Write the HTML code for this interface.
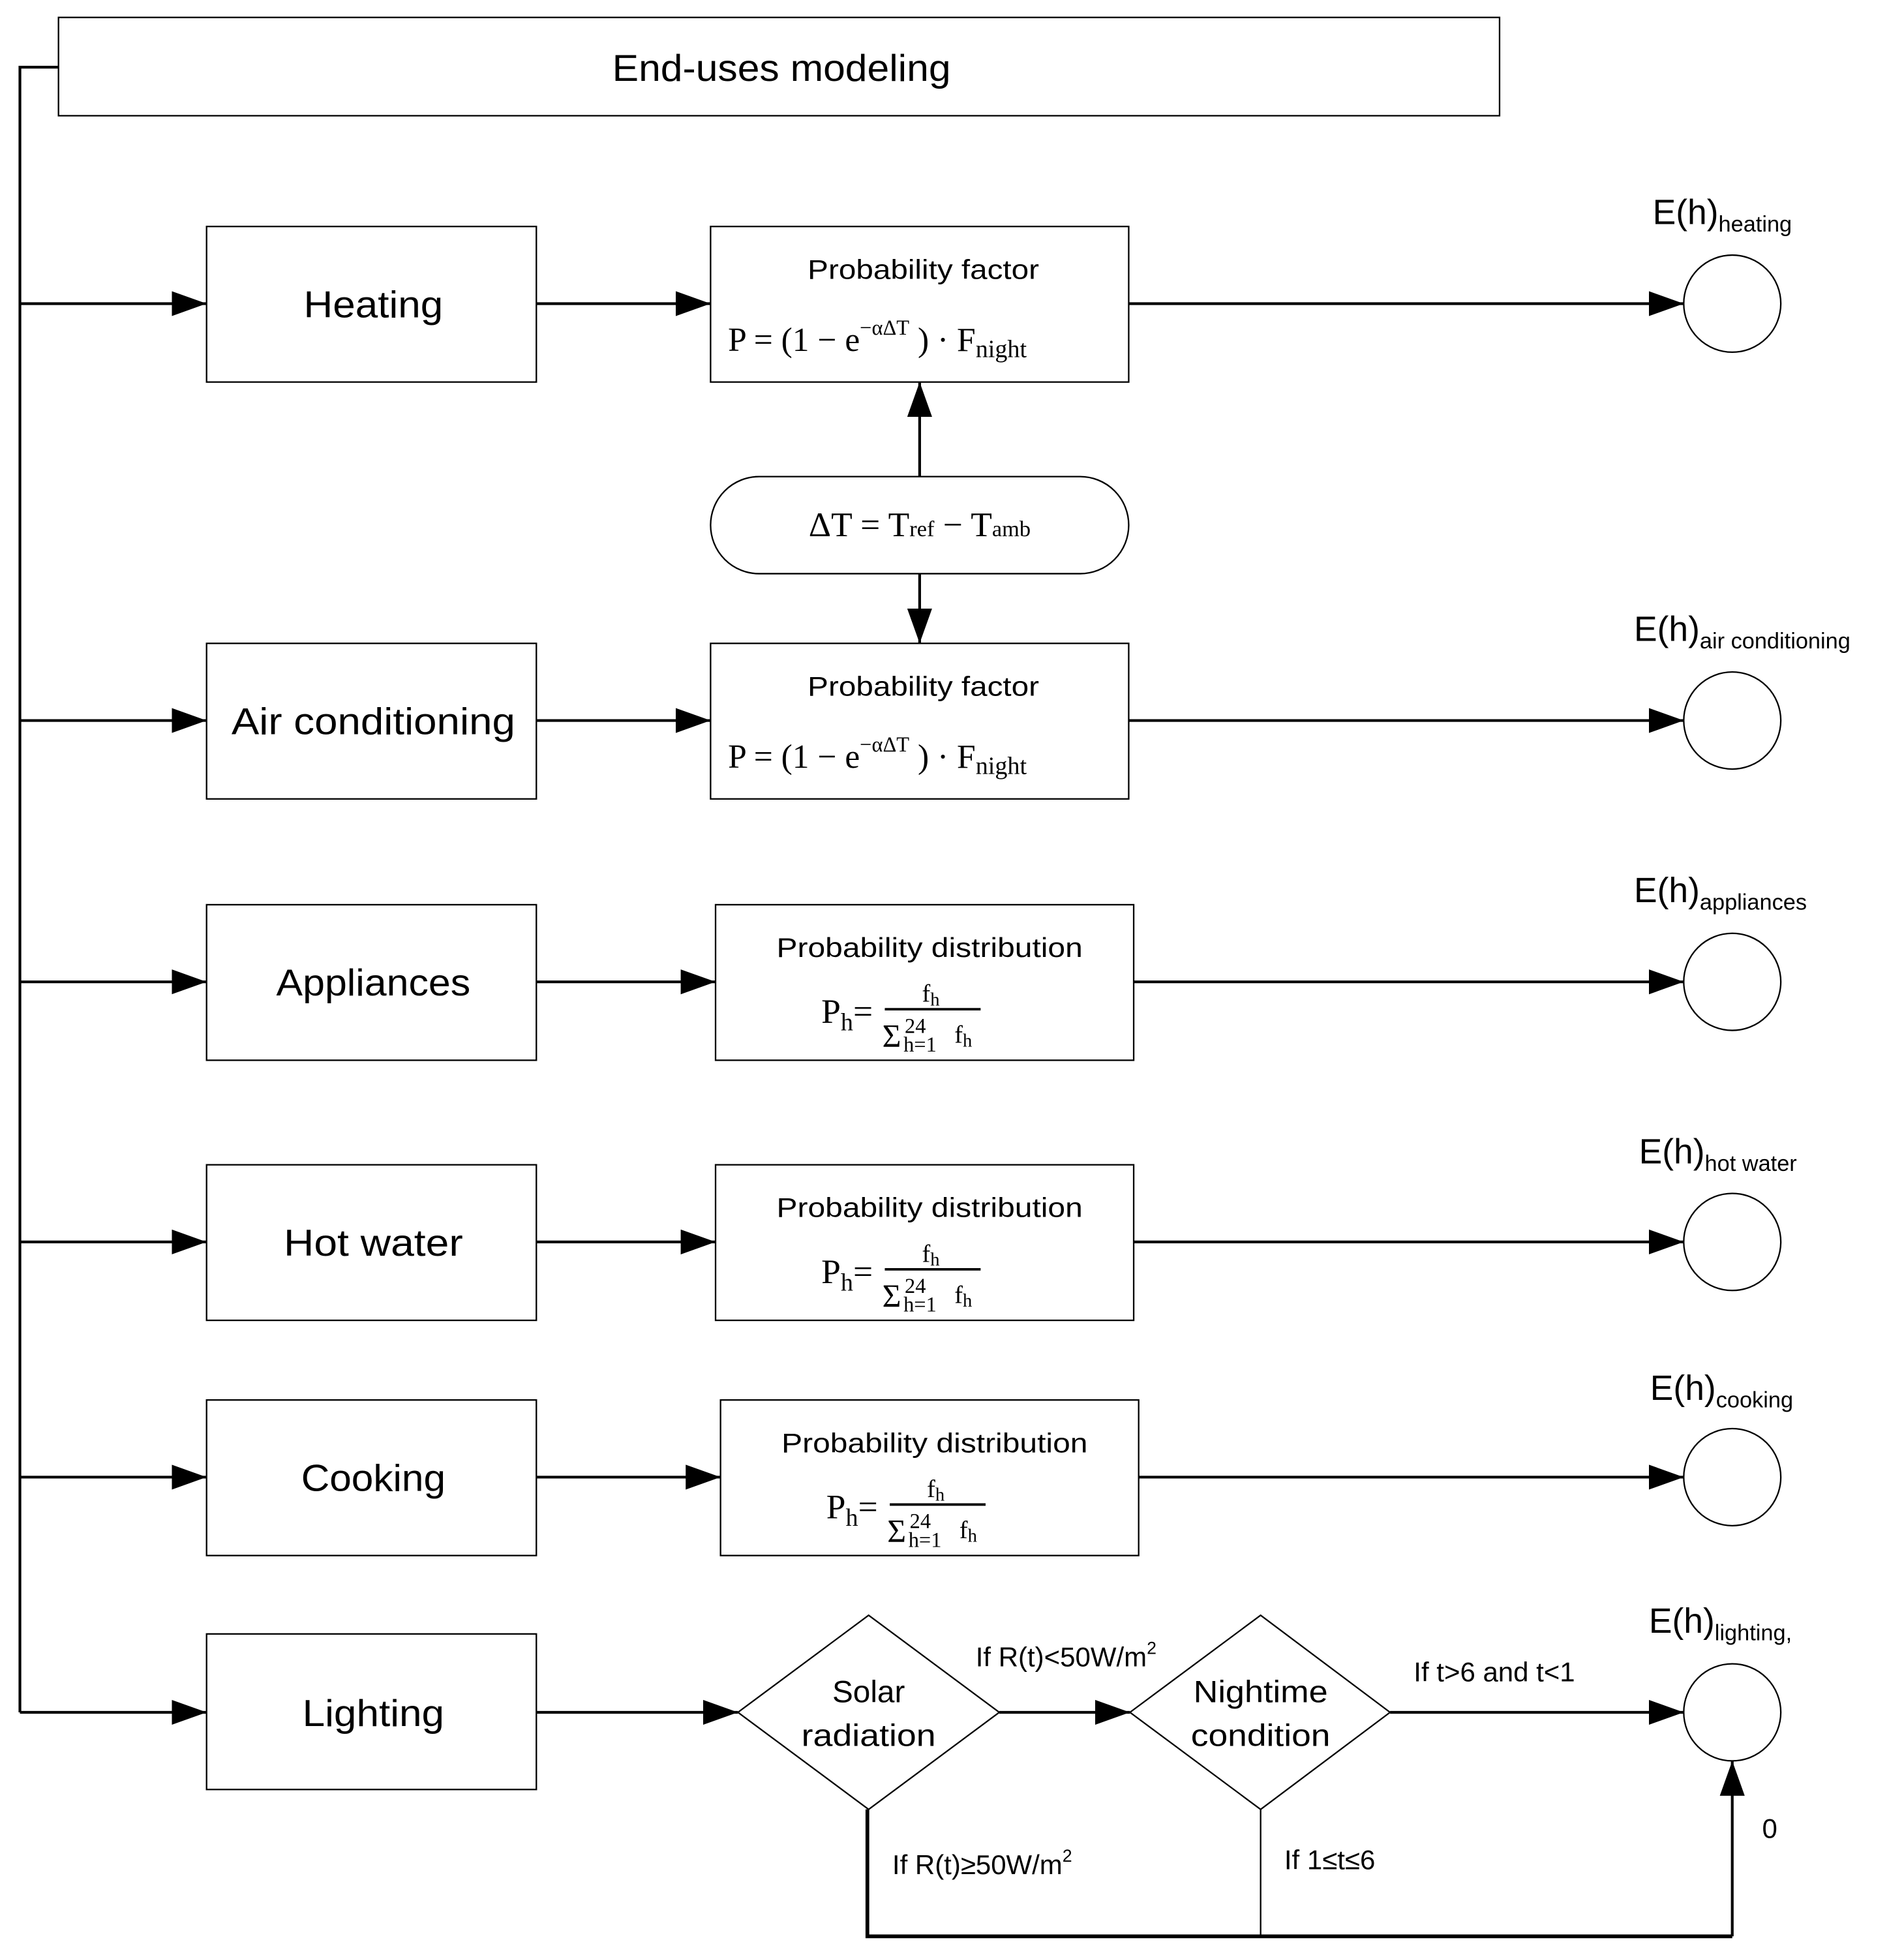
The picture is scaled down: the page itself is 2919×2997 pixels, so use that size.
<!DOCTYPE html>
<html><head><meta charset="utf-8"><style>
html,body{margin:0;padding:0;background:#fff}
svg{display:block}
.s{font-family:"Liberation Sans",sans-serif;fill:#000}
.m{font-family:"Liberation Serif",serif;fill:#000}
</style></head><body>
<svg width="2919" height="2997" viewBox="0 0 1530 1571" preserveAspectRatio="none" xmlns="http://www.w3.org/2000/svg">
<defs>
<marker id="a" viewBox="0 0 10 10" refX="10" refY="5" markerWidth="28" markerHeight="20" markerUnits="userSpaceOnUse" orient="auto" preserveAspectRatio="none"><path d="M0,0L10,5L0,10z" fill="#000"/></marker>
<g id="pd">
<text class="s" x="747" y="769" font-size="22" text-anchor="middle" textLength="246" lengthAdjust="spacingAndGlyphs">Probability distribution</text>
<text class="m" x="660" y="822" font-size="28">P<tspan font-size="20" dy="6">h</tspan><tspan dy="-6" font-size="28">=</tspan></text>
<line x1="711" y1="811" x2="788" y2="811" stroke="#000" stroke-width="2"/>
<text class="m" x="748" y="805" font-size="20" text-anchor="middle">f<tspan font-size="15" dy="3">h</tspan></text>
<text class="m" x="709" y="841" font-size="26">Σ</text>
<text class="m" x="727" y="830" font-size="17">24</text>
<text class="m" x="726" y="845" font-size="17">h=1</text>
<text class="m" x="767" y="838" font-size="20">f<tspan font-size="15" dy="3">h</tspan></text>
</g>
<g id="pf">
<text class="s" x="742" y="224" font-size="22" text-anchor="middle" textLength="186" lengthAdjust="spacingAndGlyphs">Probability factor</text>
<text class="m" x="585" y="282" font-size="27">P = (1 − e<tspan font-size="17" dy="-13">−αΔT</tspan><tspan dy="13" font-size="27"> ) · F</tspan><tspan font-size="20" dy="5">night</tspan></text>
</g>
</defs>
<g fill="none" stroke="#000" stroke-width="1.2">
<rect x="47" y="14" width="1158" height="79"/>
<rect x="166" y="182" width="265" height="125"/>
<rect x="166" y="517" width="265" height="125"/>
<rect x="166" y="727" width="265" height="125"/>
<rect x="166" y="936" width="265" height="125"/>
<rect x="166" y="1125" width="265" height="125"/>
<rect x="166" y="1313" width="265" height="125"/>
<rect x="571" y="182" width="336" height="125"/>
<rect x="571" y="517" width="336" height="125"/>
<rect x="575" y="727" width="336" height="125"/>
<rect x="575" y="936" width="336" height="125"/>
<rect x="579" y="1125" width="336" height="125"/>
<rect x="571" y="383" width="336" height="78" rx="39" ry="39"/>
<circle cx="1392" cy="244" r="39"/><circle cx="1392" cy="579" r="39"/><circle cx="1392" cy="789" r="39"/>
<circle cx="1392" cy="998" r="39"/><circle cx="1392" cy="1187" r="39"/><circle cx="1392" cy="1376" r="39"/>
<path d="M593,1376L698,1298L803,1376L698,1454Z"/>
<path d="M908,1376L1013,1298L1117,1376L1013,1454Z"/>
</g>
<g fill="none" stroke="#000" stroke-width="2.2">
<path d="M47,54H16V1376"/>
<g marker-end="url(#a)">
<line x1="16" y1="244" x2="166" y2="244"/><line x1="16" y1="579" x2="166" y2="579"/><line x1="16" y1="789" x2="166" y2="789"/>
<line x1="16" y1="998" x2="166" y2="998"/><line x1="16" y1="1187" x2="166" y2="1187"/><line x1="16" y1="1376" x2="166" y2="1376"/>
<line x1="431" y1="244" x2="571" y2="244"/><line x1="431" y1="579" x2="571" y2="579"/><line x1="431" y1="789" x2="575" y2="789"/>
<line x1="431" y1="998" x2="575" y2="998"/><line x1="431" y1="1187" x2="579" y2="1187"/><line x1="431" y1="1376" x2="593" y2="1376"/>
<line x1="907" y1="244" x2="1353" y2="244"/><line x1="907" y1="579" x2="1353" y2="579"/><line x1="911" y1="789" x2="1353" y2="789"/>
<line x1="911" y1="998" x2="1353" y2="998"/><line x1="915" y1="1187" x2="1353" y2="1187"/>
<line x1="803" y1="1376" x2="908" y2="1376"/><line x1="1117" y1="1376" x2="1353" y2="1376"/>
<line x1="739" y1="383" x2="739" y2="307"/><line x1="739" y1="461" x2="739" y2="517"/>
<path d="M1392,1556V1415"/>
</g>
<path d="M697,1454V1556H1392" stroke-width="3"/>
</g>
<line x1="1013" y1="1454" x2="1013" y2="1556" stroke="#000" stroke-width="1.2"/>
<g class="s" text-anchor="middle">
<text x="628" y="65" font-size="30" textLength="272" lengthAdjust="spacingAndGlyphs">End-uses modeling</text>
<text x="300" y="255" font-size="30" textLength="112" lengthAdjust="spacingAndGlyphs">Heating</text>
<text x="300" y="590" font-size="30" textLength="228" lengthAdjust="spacingAndGlyphs">Air conditioning</text>
<text x="300" y="800" font-size="30" textLength="156" lengthAdjust="spacingAndGlyphs">Appliances</text>
<text x="300" y="1009" font-size="30" textLength="144" lengthAdjust="spacingAndGlyphs">Hot water</text>
<text x="300" y="1198" font-size="30" textLength="116" lengthAdjust="spacingAndGlyphs">Cooking</text>
<text x="300" y="1387" font-size="30" textLength="114" lengthAdjust="spacingAndGlyphs">Lighting</text>
<text x="698" y="1368" font-size="25">Solar</text>
<text x="698" y="1403" font-size="25" textLength="108" lengthAdjust="spacingAndGlyphs">radiation</text>
<text x="1013" y="1368" font-size="25" textLength="108" lengthAdjust="spacingAndGlyphs">Nightime</text>
<text x="1013" y="1403" font-size="25" textLength="112" lengthAdjust="spacingAndGlyphs">condition</text>
</g>
<g class="s" font-size="22">
<text x="784" y="1339">If R(t)&lt;50W/m<tspan font-size="14" dy="-10">2</tspan></text>
<text x="1136" y="1351">If t&gt;6 and t&lt;1</text>
<text x="717" y="1506">If R(t)≥50W/m<tspan font-size="14" dy="-10">2</tspan></text>
<text x="1032" y="1502">If 1≤t≤6</text>
<text x="1416" y="1477">0</text>
</g>
<g class="s" font-size="28">
<text x="1328" y="180">E(h)<tspan font-size="18" dy="6">heating</tspan></text>
<text x="1313" y="515">E(h)<tspan font-size="18" dy="6">air conditioning</tspan></text>
<text x="1313" y="725">E(h)<tspan font-size="18" dy="6">appliances</tspan></text>
<text x="1317" y="935">E(h)<tspan font-size="18" dy="6">hot water</tspan></text>
<text x="1326" y="1125">E(h)<tspan font-size="18" dy="6">cooking</tspan></text>
<text x="1325" y="1312">E(h)<tspan font-size="18" dy="6">lighting,</tspan></text>
</g>
<text class="m" x="739" y="431" font-size="28" text-anchor="middle">ΔT = T<tspan font-size="18">ref</tspan> − T<tspan font-size="18">amb</tspan></text>
<use href="#pf"/>
<use href="#pf" y="335"/>
<use href="#pd"/>
<use href="#pd" y="209"/>
<use href="#pd" x="4" y="398"/>
</svg>
</body></html>
